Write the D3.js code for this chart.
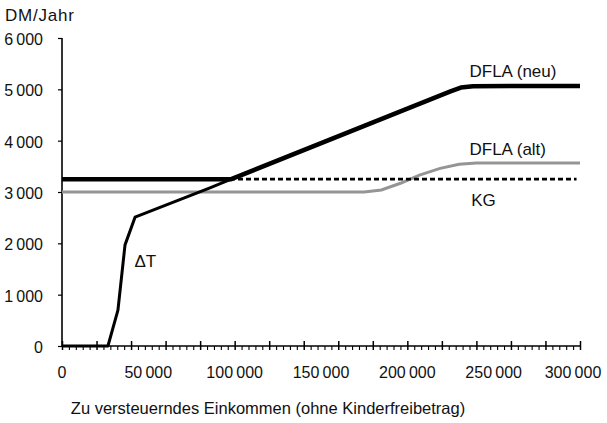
<!DOCTYPE html>
<html>
<head>
<meta charset="utf-8">
<script src="https://cdn.jsdelivr.net/npm/d3@7"></script>
<style>
body{margin:0;background:#fff;}
svg text{font-family:"Liberation Sans",Arial,sans-serif;fill:#111;}
</style>
</head>
<body>
<svg id="chart" width="607" height="423"></svg>
<script>
// values (x = Einkommen, y = DM/Jahr)
var xTicks = [0, 50000, 100000, 150000, 200000, 250000, 300000];
var yTicks = [0, 1000, 2000, 3000, 4000, 5000, 6000];

var dflaNeu = [[0,3250],[98000,3250],[225000,4960],[231000,5035],[238000,5062],[300000,5065]];
var dflaAlt = [[0,3000],[175000,3000],[185000,3040],[196000,3170],[207000,3330],[219000,3460],[230000,3540],[240000,3565],[300000,3565]];
var kg = [[0,3250],[298000,3250]];
var deltaT = [[0,0],[26600,0],[32400,700],[36500,1970],[42300,2510],[85700,3080],[98000,3250]];

var seriesLabels = [
	{text:"DFLA (neu)", x:236000, y:5250},
	{text:"DFLA (alt)", x:236000, y:3730},
	{text:"KG", x:237000, y:2720},
	{text:"\u0394T", x:42000, y:1540}
];

var svg = d3.select('#chart');
var mLeft = 62, mRight = 580, mTop = 38, mBottom = 346;

var x = d3.scaleLinear().domain([0,300000]).range([mLeft,mRight]);
var y = d3.scaleLinear().domain([0,6000]).range([mBottom,mTop]);

function fmt(v)
{
	// thin space as thousands separator like the original
	var s = String(v);
	if(s.length > 3) s = s.slice(0, s.length-3) + '\u2009' + s.slice(s.length-3);
	return s;
}

// y axis
var yAxis = svg.append('g')
	.attr('transform','translate('+mLeft+',0)')
	.call(d3.axisLeft(y).tickValues(yTicks).tickSize(4).tickFormat(''));
yAxis.select('.domain').attr('stroke','#000').attr('stroke-width',1.6).attr('d','M0,'+mTop+'V'+mBottom);
yAxis.selectAll('.tick line').attr('stroke','#000').attr('stroke-width',1.2);

svg.append('g').selectAll('text')
	.data(yTicks).enter()
	.append('text')
	.attr('x',43)
	.attr('y',function(d){ return y(d)+7;})
	.attr('text-anchor','end')
	.attr('font-size',16)
	.text(fmt);

svg.append('text')
	.attr('x',5).attr('y',21)
	.attr('font-size',17)
	.attr('letter-spacing',0.8)
	.text('DM/Jahr');

// x axis with major ticks every 20000 and minor every 4000
var xAxisG = svg.append('g').attr('transform','translate(0,'+mBottom+')');
xAxisG.call(d3.axisBottom(x).tickValues(d3.range(0,300001,4000)).tickSize(4).tickFormat(''));
xAxisG.select('.domain').attr('stroke','#000').attr('stroke-width',1.6).attr('d','M'+mLeft+',0H'+mRight);
xAxisG.selectAll('.tick line').attr('stroke','#000').attr('stroke-width',1.1);
xAxisG.selectAll('.tick')
	.filter(function(d){ return d % 20000 === 0;})
	.select('line')
	.attr('y1',-5)
	.attr('y2',4)
	.attr('stroke-width',1.5);

svg.append('g').selectAll('text')
	.data(xTicks).enter()
	.append('text')
	.attr('x',function(d){ return Math.min(x(d), 573);})
	.attr('y',378)
	.attr('text-anchor','middle')
	.attr('font-size',16)
	.text(fmt);

svg.append('text')
	.attr('x',268).attr('y',414)
	.attr('text-anchor','middle')
	.attr('font-size',16.5)
	.text('Zu versteuerndes Einkommen (ohne Kinderfreibetrag)');

var line = d3.line()
	.x(function(d){ return x(d[0]);})
	.y(function(d){ return y(d[1]);});

var plot = svg.append('g').attr('fill','none');

plot.append('path')
	.datum(dflaAlt)
	.attr('d',line)
	.attr('stroke','#959595')
	.attr('stroke-width',3);

plot.append('path')
	.datum(kg)
	.attr('d',line)
	.attr('stroke','#000')
	.attr('stroke-width',2.6)
	.attr('stroke-dasharray','5,3');

plot.append('path')
	.datum(deltaT)
	.attr('d',line)
	.attr('stroke','#000')
	.attr('stroke-width',3)
	.attr('stroke-linejoin','round');

plot.append('path')
	.datum(dflaNeu)
	.attr('d',line)
	.attr('stroke','#000')
	.attr('stroke-width',4.5)
	.attr('stroke-linejoin','round');

svg.append('g').selectAll('text')
	.data(seriesLabels).enter()
	.append('text')
	.attr('x',function(d){ return x(d.x);})
	.attr('y',function(d){ return y(d.y);})
	.attr('font-size',17)
	.text(function(d){ return d.text;});
</script>
</body>
</html>
